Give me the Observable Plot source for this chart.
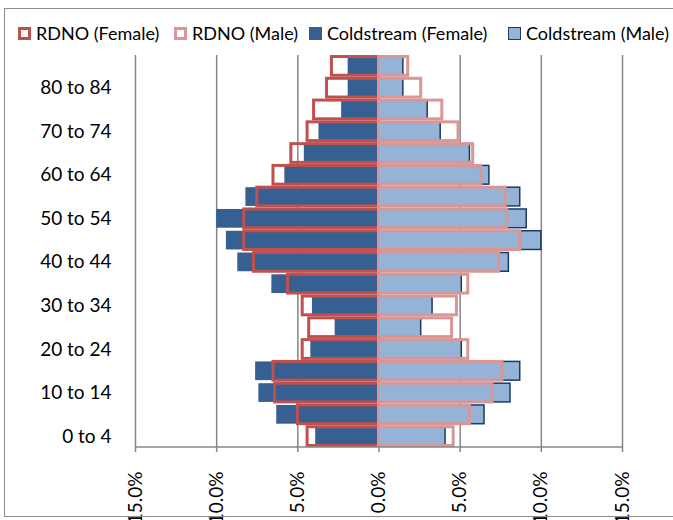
<!DOCTYPE html>
<html>
<head>
<meta charset="utf-8">
<script src="https://cdn.jsdelivr.net/npm/d3@7"></script>
<script src="https://cdn.jsdelivr.net/npm/@observablehq/plot@0.6"></script>
<style>
  html, body { margin: 0; padding: 0; background: #fff; }
  #wrap { position: relative; width: 673px; height: 520px; overflow: hidden; font-family: Lato, "Open Sans", sans-serif; }
  #border { position: absolute; left: 4px; top: 8px; width: 700px; height: 509px; border: 1px solid #8c8c8c; box-sizing: border-box; pointer-events: none; }
  #legend { position: relative; height: 48px; }
  .item { position: absolute; top: 22px; height: 22px; display: flex; align-items: center; font-size: 18px; color: #000; white-space: nowrap; }
  .sw { width: 13px; height: 13px; box-sizing: border-box; margin-right: 5px; }
  #chart svg { display: block; }
</style>
</head>
<body>
<div id="wrap">
  <div id="border"></div>
  <div id="legend"></div>
  <div id="chart"></div>
</div>
<script>
const ages = ["0 to 4","5 to 9","10 to 14","15 to 19","20 to 24","25 to 29","30 to 34","35 to 39","40 to 44","45 to 49","50 to 54","55 to 59","60 to 64","65 to 69","70 to 74","75 to 79","80 to 84","85 and over"];
const coldstreamFemale = [3.9, 6.3, 7.4, 7.6, 4.2, 2.7, 4.1, 6.6, 8.7, 9.4, 10.0, 8.2, 5.8, 4.6, 3.7, 2.3, 1.9, 1.9];
const coldstreamMale   = [4.1, 6.5, 8.1, 8.7, 5.1, 2.6, 3.3, 5.1, 8.0, 10.0, 9.1, 8.7, 6.8, 5.6, 3.8, 3.0, 1.5, 1.5];
const rdnoFemale       = [4.4, 5.0, 6.4, 6.5, 4.7, 4.3, 4.7, 5.6, 7.7, 8.3, 8.3, 7.5, 6.5, 5.4, 4.4, 4.0, 3.2, 2.9];
const rdnoMale         = [4.6, 5.6, 7.0, 7.6, 5.5, 4.5, 4.8, 5.5, 7.4, 8.7, 7.9, 7.8, 6.3, 5.8, 4.9, 3.9, 2.6, 1.8];
const xTicks = [-15, -10, -5, 0, 5, 10, 15];
const yTickLabels = ["0 to 4","10 to 14","20 to 24","30 to 34","40 to 44","50 to 54","60 to 64","70 to 74","80 to 84"];
const seriesNames = ["RDNO (Female)", "RDNO (Male)", "Coldstream (Female)", "Coldstream (Male)"];

const colors = {
  rdnoF: "#C0504D",
  rdnoM: "#D99694",
  coldF: "#376092",
  coldM: "#95B3D7",
  coldMEdge: "#1F3A60",
  grid: "#868686"
};

// legend
const legendItems = [
  {name: seriesNames[0], left: 18, style: `border:3px solid ${colors.rdnoF};background:#fff;`},
  {name: seriesNames[1], left: 174, style: `border:3px solid ${colors.rdnoM};background:#fff;`},
  {name: seriesNames[2], left: 309, style: `background:${colors.coldF};`},
  {name: seriesNames[3], left: 508, style: `background:${colors.coldM};border:1.5px solid ${colors.coldMEdge};`}
];
const legend = document.getElementById("legend");
for (const it of legendItems) {
  const d = document.createElement("div");
  d.className = "item";
  d.style.left = it.left + "px";
  d.innerHTML = `<span class="sw" style="${it.style}"></span><span>${it.name}</span>`;
  legend.appendChild(d);
}

const toRows = (vals, sign) => ages.map((a, i) => ({age: a, value: sign * vals[i]}));
const cf = toRows(coldstreamFemale, -1);
const cm = toRows(coldstreamMale, 1);
const rf = toRows(rdnoFemale, -1);
const rm = toRows(rdnoMale, 1);

const plot = Plot.plot({
  width: 673,
  height: 472,
  marginTop: 7,
  marginBottom: 73,
  marginLeft: 135,
  marginRight: 51,
  style: {fontFamily: "Lato, 'Open Sans', sans-serif", fontSize: "19px", color: "#000", background: "#fff"},
  x: {domain: [-15, 15]},
  y: {domain: ages.slice().reverse(), paddingInner: 0.14, paddingOuter: 0.07, round: false},
  marks: [
    Plot.gridX(xTicks, {stroke: colors.grid, strokeOpacity: 1, strokeWidth: 1.5}),
    Plot.barX(cf, {x1: 0, x2: "value", y: "age", fill: colors.coldF}),
    Plot.barX(cm, {x1: 0, x2: "value", y: "age", fill: colors.coldM, stroke: colors.coldMEdge, strokeWidth: 1.5}),
    Plot.ruleX([0], {stroke: colors.grid, strokeWidth: 1.5}),
    Plot.barX(rf, {x1: 0, x2: "value", y: "age", fill: "none", stroke: colors.rdnoF, strokeWidth: 3}),
    Plot.barX(rm, {x1: 0, x2: "value", y: "age", fill: "none", stroke: colors.rdnoM, strokeWidth: 3}),
    Plot.axisX({ticks: xTicks, tickFormat: d => Math.abs(d).toFixed(1) + "%", tickRotate: -90, tickSize: 5, tickPadding: 19, stroke: colors.grid, strokeWidth: 1.5, fill: "#000", fontSize: 19, label: null}),
    Plot.axisY({ticks: yTickLabels, tickSize: 0, tickPadding: 24, fill: "#000", fontSize: 19, label: null})
  ]
});
document.getElementById("chart").appendChild(plot);

// bottom axis line, positioned from the plot's own scales
const xs = plot.scale("x"), ys = plot.scale("y");
const yBottom = Math.max(...ys.range);
d3.select(plot).append("line")
  .attr("x1", xs.apply(-15)).attr("x2", xs.apply(15))
  .attr("y1", yBottom).attr("y2", yBottom)
  .attr("stroke", colors.grid).attr("stroke-width", 1.5);
</script>
</body>
</html>
